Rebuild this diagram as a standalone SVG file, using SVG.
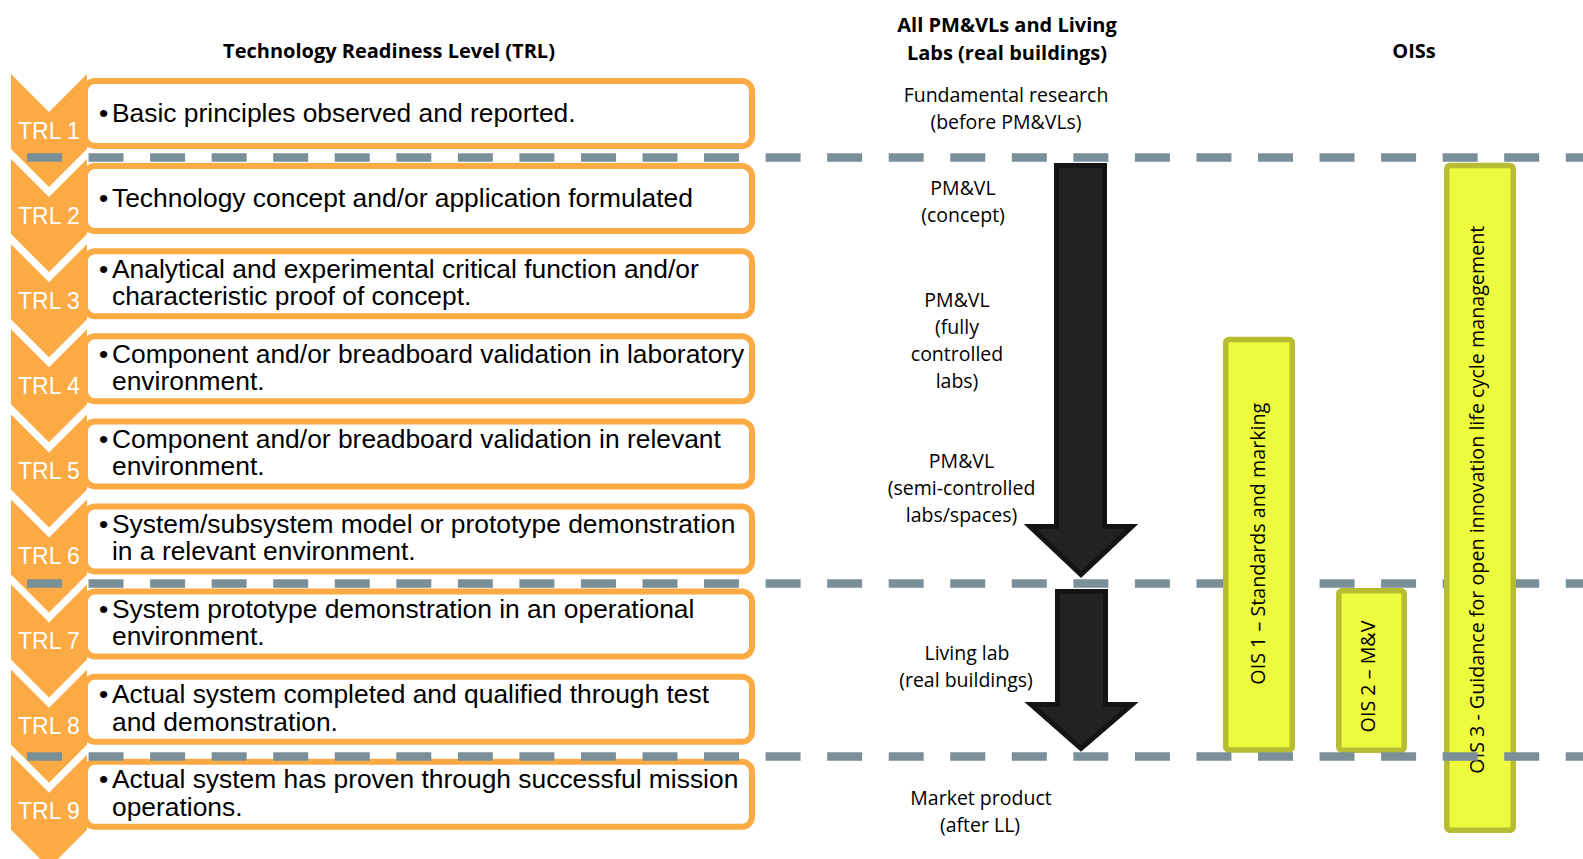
<svg xmlns="http://www.w3.org/2000/svg" width="1583" height="859" viewBox="0 0 1583 859">
  <style>
    .chev { fill: #FCAA44; }
    .trl { font-family: "Liberation Sans", Arial, sans-serif; font-size: 23px; fill: #FFFFFF; }
    .box { fill: #FFFFFF; stroke: #FCAA44; stroke-width: 6; }
    .desc { font-family: "Liberation Sans", Arial, sans-serif; font-size: 26.4px; fill: #000000; }
    .head { font-family: "Open Sans", "Noto Sans", sans-serif; font-size: 20px; font-weight: bold; fill: #000000; text-anchor: middle; }
    .lbl { font-family: "Open Sans", "Noto Sans", sans-serif; font-size: 19.5px; fill: #000000; text-anchor: middle; }
    .dash { stroke: #7B8F99; stroke-width: 8.5; stroke-dasharray: 35 26.55; fill: none; }
    .arrow { fill: #222222; stroke: #141414; stroke-width: 5; stroke-linejoin: miter; }
    .ois { fill: #EDFB3E; stroke: #B7BC32; stroke-width: 5.5; }
    .oist { font-family: "Open Sans", "Noto Sans", sans-serif; font-size: 19.7px; fill: #000000; text-anchor: middle; }
  </style>

  <!-- column headings -->
  <g id="headings">
    <text class="head" x="389" y="58">Technology Readiness Level (TRL)</text>
    <text class="head" x="1007" y="32">All PM&amp;VLs and Living</text>
    <text class="head" x="1007" y="60">Labs (real buildings)</text>
    <text class="head" x="1414" y="58">OISs</text>
  </g>

  <!-- TRL levels: chevron + description box -->
  <g id="trl1">
    <polygon class="chev" points="11,74 49,112 87,74 87,149 49,187 11,149"/>
    <rect class="box" x="85" y="81" width="667" height="65" rx="10"/>
    <text class="trl" x="18" y="138.5">TRL 1</text>
    <text class="desc" x="99" y="121.7">•</text>
    <text class="desc" x="112" y="121.7">Basic principles observed and reported.</text>
  </g>
  <g id="trl2">
    <polygon class="chev" points="11,159.1 49,197.1 87,159.1 87,234.1 49,272.1 11,234.1"/>
    <rect class="box" x="85" y="166.1" width="667" height="65" rx="10"/>
    <text class="trl" x="18" y="223.6">TRL 2</text>
    <text class="desc" x="99" y="206.8">•</text>
    <text class="desc" x="112" y="206.8">Technology concept and/or application formulated</text>
  </g>
  <g id="trl3">
    <polygon class="chev" points="11,244.2 49,282.2 87,244.2 87,319.2 49,357.2 11,319.2"/>
    <rect class="box" x="85" y="251.2" width="667" height="65" rx="10"/>
    <text class="trl" x="18" y="308.7">TRL 3</text>
    <text class="desc" x="99" y="277.7">•</text>
    <text class="desc" x="112" y="277.7">Analytical and experimental critical function and/or</text>
    <text class="desc" x="112" y="305">characteristic proof of concept.</text>
  </g>
  <g id="trl4">
    <polygon class="chev" points="11,329.3 49,367.3 87,329.3 87,404.3 49,442.3 11,404.3"/>
    <rect class="box" x="85" y="336.3" width="667" height="65" rx="10"/>
    <text class="trl" x="18" y="393.8">TRL 4</text>
    <text class="desc" x="99" y="362.8">•</text>
    <text class="desc" x="112" y="362.8">Component and/or breadboard validation in laboratory</text>
    <text class="desc" x="112" y="390.1">environment.</text>
  </g>
  <g id="trl5">
    <polygon class="chev" points="11,414.4 49,452.4 87,414.4 87,489.4 49,527.4 11,489.4"/>
    <rect class="box" x="85" y="421.4" width="667" height="65" rx="10"/>
    <text class="trl" x="18" y="478.9">TRL 5</text>
    <text class="desc" x="99" y="447.9">•</text>
    <text class="desc" x="112" y="447.9">Component and/or breadboard validation in relevant</text>
    <text class="desc" x="112" y="475.2">environment.</text>
  </g>
  <g id="trl6">
    <polygon class="chev" points="11,499.5 49,537.5 87,499.5 87,574.5 49,612.5 11,574.5"/>
    <rect class="box" x="85" y="506.5" width="667" height="65" rx="10"/>
    <text class="trl" x="18" y="564">TRL 6</text>
    <text class="desc" x="99" y="533">•</text>
    <text class="desc" x="112" y="533">System/subsystem model or prototype demonstration</text>
    <text class="desc" x="112" y="560.3">in a relevant environment.</text>
  </g>
  <g id="trl7">
    <polygon class="chev" points="11,584.6 49,622.6 87,584.6 87,659.6 49,697.6 11,659.6"/>
    <rect class="box" x="85" y="591.6" width="667" height="65" rx="10"/>
    <text class="trl" x="18" y="649.1">TRL 7</text>
    <text class="desc" x="99" y="618.1">•</text>
    <text class="desc" x="112" y="618.1">System prototype demonstration in an operational</text>
    <text class="desc" x="112" y="645.4">environment.</text>
  </g>
  <g id="trl8">
    <polygon class="chev" points="11,669.7 49,707.7 87,669.7 87,744.7 49,782.7 11,744.7"/>
    <rect class="box" x="85" y="676.7" width="667" height="65" rx="10"/>
    <text class="trl" x="18" y="734.2">TRL 8</text>
    <text class="desc" x="99" y="703.2">•</text>
    <text class="desc" x="112" y="703.2">Actual system completed and qualified through test</text>
    <text class="desc" x="112" y="730.5">and demonstration.</text>
  </g>
  <g id="trl9">
    <polygon class="chev" points="11,754.8 49,792.8 87,754.8 87,829.8 49,867.8 11,829.8"/>
    <rect class="box" x="85" y="761.8" width="667" height="65" rx="10"/>
    <text class="trl" x="18" y="819.3">TRL 9</text>
    <text class="desc" x="99" y="788.3">•</text>
    <text class="desc" x="112" y="788.3">Actual system has proven through successful mission</text>
    <text class="desc" x="112" y="815.6">operations.</text>
  </g>

  <!-- phase boundaries behind the OIS bars -->
  <g id="boundaries-upper">
    <line class="dash" x1="27" y1="157.5" x2="1583" y2="157.5"/>
    <line class="dash" x1="27" y1="583.5" x2="1583" y2="583.5"/>
  </g>

  <!-- stage labels -->
  <g id="stages">
    <text class="lbl" x="1006" y="102">Fundamental research</text>
    <text class="lbl" x="1006" y="128.5">(before PM&amp;VLs)</text>
    <text class="lbl" x="963" y="195">PM&amp;VL</text>
    <text class="lbl" x="963" y="221.5">(concept)</text>
    <text class="lbl" x="957" y="307">PM&amp;VL</text>
    <text class="lbl" x="957" y="334">(fully</text>
    <text class="lbl" x="957" y="361">controlled</text>
    <text class="lbl" x="957" y="387.5">labs)</text>
    <text class="lbl" x="961.5" y="468">PM&amp;VL</text>
    <text class="lbl" x="961.5" y="495">(semi-controlled</text>
    <text class="lbl" x="961.5" y="521.5">labs/spaces)</text>
    <text class="lbl" x="967" y="660">Living lab</text>
    <text class="lbl" x="966" y="687">(real buildings)</text>
    <text class="lbl" x="981" y="804.5">Market product</text>
    <text class="lbl" x="980" y="831.5">(after LL)</text>
  </g>

  <!-- progression arrows -->
  <g id="connectors">
    <path class="arrow" d="M1056.5,165.5 H1104.5 V526.5 H1132 L1081,574.5 L1030,526.5 H1056.5 Z"/>
    <path class="arrow" d="M1057.5,591.5 H1105.5 V704.5 H1132 L1081,748.5 L1031,704.5 H1057.5 Z"/>
  </g>

  <!-- OIS bars -->
  <g id="ois1">
    <rect class="ois" x="1225.7" y="339.5" width="66.6" height="410.4" rx="3"/>
    <text class="oist" transform="translate(1258,543.7) rotate(-90)" x="0" y="7">OIS 1 – Standards and marking</text>
  </g>
  <g id="ois2">
    <rect class="ois" x="1338.8" y="590.8" width="65.4" height="159.4" rx="3"/>
    <text class="oist" transform="translate(1368,676.5) rotate(-90)" x="0" y="7">OIS 2 – M&amp;V</text>
  </g>
  <g id="ois3">
    <rect class="ois" x="1446.8" y="165.5" width="66.4" height="664.7" rx="3"/>
    <text class="oist" transform="translate(1477,499.7) rotate(-90)" x="0" y="7">OIS 3 - Guidance for open innovation life cycle management</text>
  </g>

  <!-- market boundary drawn over the bars -->
  <g id="boundary-lower">
    <line class="dash" x1="27" y1="756.5" x2="1583" y2="756.5"/>
  </g>
</svg>
